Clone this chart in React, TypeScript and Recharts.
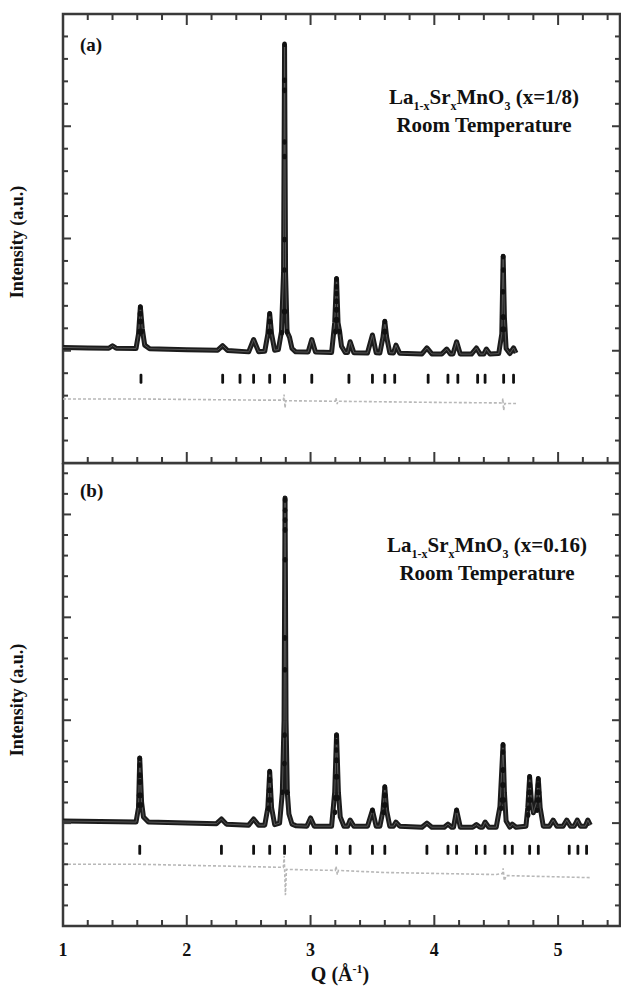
import { ComposedChart, Line, Scatter, XAxis, YAxis, ReferenceArea } from "recharts";

// x axis (Q, 1/A)
const qDomain: [number, number] = [1, 5.5];
const qTicks = [1, 1.2, 1.4, 1.6, 1.8, 2, 2.2, 2.4, 2.6, 2.8, 3, 3.2, 3.4, 3.6, 3.8, 4, 4.2, 4.4, 4.6, 4.8, 5, 5.2, 5.4];
const qLabels = [1, 2, 3, 4, 5];

// y axes (a.u.)
const domainA: [number, number] = [-1000, 3000];
const domainB: [number, number] = [-1000, 3500];
const yTicksA = [-1000, -800, -600, -400, -200, 0, 200, 400, 600, 800, 1000, 1200, 1400, 1600, 1800, 2000, 2200, 2400, 2600, 2800, 3000];
const yTicksB = [-1000, -800, -600, -400, -200, 0, 200, 400, 600, 800, 1000, 1200, 1400, 1600, 1800, 2000, 2200, 2400, 2600, 2800, 3000, 3200, 3400];

// panel (a) x = 1/8
const calcA: [number, number][] = [
  [1.0, 30], [1.2, 25], [1.37, 22], [1.4, 45], [1.43, 22], [1.59, 20], [1.61, 150], [1.625, 390], [1.64, 200], [1.66, 50],
  [1.7, 18], [2.0, 10], [2.25, 5], [2.29, 45], [2.33, 2], [2.5, -10], [2.54, 100], [2.58, -8], [2.63, -5], [2.655, 150],
  [2.67, 330], [2.685, 150], [2.71, 5], [2.74, 10], [2.765, 170], [2.782, 700], [2.79, 2720], [2.798, 700], [2.81, 170],
  [2.83, 120], [2.85, 20], [2.88, -10], [2.98, -12], [3.01, 100], [3.04, -12], [3.17, -15], [3.195, 250], [3.21, 640],
  [3.222, 250], [3.235, 170], [3.25, 40], [3.28, -15], [3.3, -15], [3.32, 80], [3.35, -18], [3.46, -20], [3.5, 140],
  [3.53, -18], [3.56, -20], [3.585, 120], [3.6, 260], [3.615, 120], [3.64, -18], [3.67, -20], [3.69, 50], [3.72, -22],
  [3.9, -28], [3.94, 25], [3.98, -28], [4.06, -30], [4.1, 15], [4.13, -30], [4.15, -30], [4.18, 80], [4.21, -30],
  [4.3, -30], [4.34, 25], [4.37, -30], [4.4, -30], [4.42, 15], [4.45, -30], [4.52, -25], [4.545, 150], [4.556, 840],
  [4.566, 300], [4.58, 20], [4.61, -25], [4.64, 25], [4.66, -20],
];
const obsA: [number, number][] = [
  [1.625, 390], [1.622, 330], [1.628, 330], [1.62, 260], [1.63, 260], [1.617, 170], [1.635, 170],
  [2.67, 330], [2.667, 260], [2.673, 260], [2.663, 170], [2.677, 170],
  [2.79, 2730], [2.79, 2410], [2.79, 2320], [2.79, 1860], [2.79, 1730], [2.789, 990], [2.788, 720], [2.786, 350],
  [2.794, 350], [2.768, 160], [2.81, 170],
  [3.21, 640], [3.21, 570], [3.21, 510], [3.209, 440], [3.211, 440], [3.207, 365], [3.213, 365], [3.205, 275],
  [3.215, 275], [3.2, 170], [3.233, 170],
  [3.6, 260], [3.597, 170], [3.603, 170],
  [4.556, 840], [4.556, 720], [4.555, 525], [4.553, 300], [4.56, 300], [4.55, 190], [4.563, 190],
];
const braggA = [1.63, 2.29, 2.43, 2.54, 2.67, 2.79, 3.01, 3.31, 3.5, 3.6, 3.68, 3.95, 4.11, 4.19, 4.35, 4.41, 4.56, 4.64];
const braggRowA = -250;
const diffA: [number, number][] = [
  [1.0, -430], [1.65, -430], [2.6, -440], [2.78, -440], [2.786, -390], [2.794, -510], [2.8, -445], [3.2, -450],
  [3.205, -420], [3.215, -475], [3.22, -450], [4.0, -460], [4.55, -465], [4.553, -425], [4.56, -530], [4.57, -470], [4.66, -470],
];

// panel (b) x = 0.16
const calcB: [number, number][] = [
  [1.0, 20], [1.3, 15], [1.59, 10], [1.61, 150], [1.62, 630], [1.635, 200], [1.65, 60], [1.69, 10], [2.0, 0], [2.24, -5],
  [2.28, 40], [2.32, -10], [2.5, -20], [2.54, 40], [2.58, -20], [2.63, -20], [2.655, 150], [2.67, 500], [2.685, 150],
  [2.71, -15], [2.75, 0], [2.772, 300], [2.786, 1000], [2.794, 3160], [2.802, 1000], [2.812, 300], [2.825, 90], [2.85, -10],
  [2.88, -25], [2.97, -30], [3.0, 50], [3.03, -30], [3.17, -30], [3.195, 300], [3.21, 855], [3.225, 300], [3.24, 60],
  [3.27, -30], [3.3, -30], [3.32, 30], [3.35, -30], [3.46, -30], [3.5, 125], [3.53, -30], [3.56, -30], [3.585, 120],
  [3.6, 350], [3.615, 120], [3.64, -30], [3.67, -30], [3.69, 10], [3.72, -30], [3.9, -40], [3.94, 0], [3.98, -40],
  [4.08, -40], [4.11, -10], [4.14, -40], [4.155, -40], [4.18, 125], [4.21, -40], [4.31, -40], [4.34, -15], [4.37, -40],
  [4.39, -40], [4.41, 10], [4.44, -40], [4.5, -40], [4.53, 160], [4.555, 760], [4.566, 300], [4.58, 20], [4.61, -40],
  [4.63, -10], [4.66, -40], [4.74, -30], [4.755, 150], [4.77, 450], [4.785, 200], [4.8, 100], [4.825, 200], [4.84, 430],
  [4.855, 150], [4.88, -30], [4.93, -30], [4.96, 30], [4.99, -30], [5.04, -30], [5.07, 30], [5.1, -30], [5.13, -30],
  [5.155, 30], [5.18, -30], [5.22, -30], [5.24, 30], [5.26, -20],
];
const obsB: [number, number][] = [
  [1.62, 630], [1.62, 565], [1.619, 465], [1.621, 465], [1.618, 400], [1.624, 400], [1.615, 270], [1.628, 270],
  [1.613, 175], [1.632, 175],
  [2.67, 500], [2.668, 420], [2.672, 420], [2.665, 320], [2.676, 320], [2.662, 225], [2.679, 225], [2.66, 145],
  [2.794, 3140], [2.794, 3040], [2.794, 2945], [2.794, 2850], [2.794, 2560], [2.793, 1800], [2.793, 1490], [2.79, 855],
  [2.789, 580], [2.772, 300], [2.812, 300],
  [3.21, 855], [3.21, 790], [3.209, 710], [3.208, 610], [3.212, 610], [3.205, 450], [3.215, 450], [3.2, 245],
  [3.22, 245], [3.197, 105],
  [3.5, 125],
  [3.6, 350], [3.597, 270], [3.603, 270], [3.594, 175], [3.606, 175], [3.59, 105],
  [4.18, 125],
  [4.555, 760], [4.555, 690], [4.553, 515], [4.557, 515], [4.55, 370], [4.559, 370], [4.545, 225], [4.562, 225], [4.54, 145],
  [4.77, 450], [4.768, 370], [4.772, 370], [4.765, 300], [4.775, 300], [4.762, 225], [4.778, 225], [4.76, 145], [4.758, 80],
  [4.84, 430], [4.838, 370], [4.842, 370], [4.835, 300], [4.845, 300], [4.832, 225], [4.848, 225], [4.83, 125],
];
const braggB = [1.62, 2.28, 2.54, 2.67, 2.79, 3.0, 3.21, 3.32, 3.5, 3.6, 3.94, 4.11, 4.18, 4.34, 4.41, 4.57, 4.63, 4.77, 4.84, 5.09, 5.16, 5.23];
const braggRowB = -260;
const diffB: [number, number][] = [
  [1.0, -400], [1.62, -400], [2.0, -410], [2.78, -430], [2.787, -320], [2.797, -700], [2.805, -450], [3.2, -460],
  [3.206, -420], [3.216, -500], [3.225, -460], [3.6, -480], [4.5, -500], [4.55, -490], [4.556, -440], [4.565, -560],
  [4.58, -510], [5.26, -530],
];

const toPts = (arr: [number, number][]) => arr.map(([q, i]) => ({ q, i }));
const toBragg = (arr: number[], row: number) => arr.map((q) => ({ q, i: row }));
const isMajor = (q: number) => qLabels.some((l) => Math.abs(l - q) < 1e-6);

const W = 621;
const LEFT = 63;
const RIGHT_EDGE = 620;
const FRAME = "#3a3a3a";
const serif = "'Liberation Serif', 'Times New Roman', serif";
// same linear map as the x axis, for the inward tick overlay
const qToX = (q: number) => LEFT + ((q - qDomain[0]) / (qDomain[1] - qDomain[0])) * (RIGHT_EDGE - LEFT);

const obsDot = (p: any) => <ellipse cx={p.cx} cy={p.cy} rx={2.3} ry={2.8} fill="#111" />;
const braggMark = (p: any) => <rect x={p.cx - 1.4} y={p.cy - 5} width={2.8} height={10} rx={1.2} fill="#111" />;

const xLabel = (labels: boolean) => (p: any) => {
  const v = p.payload.value;
  if (!labels || !isMajor(v)) return <g />;
  return (
    <text x={p.x} y={p.y + 30} textAnchor="middle" fontFamily={serif} fontWeight="bold" fontSize={18} fill="#111">
      {v}
    </text>
  );
};

const yTick = (p: any) => {
  const v = p.payload.value;
  const len = v % 1000 === 0 ? 8 : 5;
  return (
    <g>
      <line x1={p.x} x2={p.x + len} y1={p.y} y2={p.y} stroke={FRAME} strokeWidth={2} />
      <line x1={RIGHT_EDGE} x2={RIGHT_EDGE - len} y1={p.y} y2={p.y} stroke={FRAME} strokeWidth={2} />
    </g>
  );
};

type PanelProps = {
  height: number;
  top: number;
  axisH: number;
  domain: [number, number];
  yTicks: number[];
  calc: [number, number][];
  obs: [number, number][];
  bragg: number[];
  braggRow: number;
  diff: [number, number][];
  topTicks: boolean;
  labels: boolean;
};

const Panel = ({ height, top, axisH, domain, yTicks, calc, obs, bragg, braggRow, diff, topTicks, labels }: PanelProps) => {
  const bottomY = height - axisH;
  return (
    <div style={{ position: "relative", width: W, height }}>
      <ComposedChart width={W} height={height} margin={{ top, right: W - RIGHT_EDGE, bottom: 0, left: 0 }}>
        <XAxis
          type="number"
          dataKey="q"
          domain={qDomain}
          ticks={qTicks}
          interval={0}
          height={axisH}
          tickSize={0}
          tickMargin={0}
          axisLine={false}
          tickLine={false}
          tick={xLabel(labels)}
        />
        <YAxis
          type="number"
          dataKey="i"
          domain={domain}
          ticks={yTicks}
          interval={0}
          width={LEFT}
          tickSize={0}
          tickMargin={0}
          axisLine={false}
          tickLine={false}
          tick={yTick}
        />
        <ReferenceArea x1={qDomain[0]} x2={qDomain[1]} y1={domain[0]} y2={domain[1]} fill="none" stroke={FRAME} strokeWidth={2.5} ifOverflow="visible" />
        <Line data={toPts(diff)} dataKey="i" stroke="#b8b8b8" strokeWidth={1.6} strokeDasharray="3 2" dot={false} isAnimationActive={false} />
        <Line data={toPts(calc)} dataKey="i" stroke="#1c1c1c" strokeWidth={5} strokeLinejoin="round" dot={false} isAnimationActive={false} />
        <Line data={toPts(calc)} dataKey="i" stroke="#555" strokeWidth={1} dot={false} isAnimationActive={false} />
        <Scatter data={toPts(obs)} shape={obsDot} isAnimationActive={false} />
        <Scatter data={toBragg(bragg, braggRow)} shape={braggMark} isAnimationActive={false} />
      </ComposedChart>
      <svg width={W} height={height} style={{ position: "absolute", left: 0, top: 0, pointerEvents: "none" }}>
        {qTicks.map((q) => {
          const len = isMajor(q) ? 11 : 6;
          return (
            <g key={q}>
              <rect x={qToX(q) - 1} y={bottomY - len} width={2} height={len} fill={FRAME} />
              {topTicks && <rect x={qToX(q) - 1} y={top} width={2} height={len} fill={FRAME} />}
            </g>
          );
        })}
      </svg>
    </div>
  );
};

const txt = (extra: React.CSSProperties): React.CSSProperties => ({
  position: "absolute",
  fontFamily: serif,
  fontWeight: "bold",
  color: "#111",
  whiteSpace: "nowrap",
  ...extra,
});

const sub: React.CSSProperties = { fontSize: 12, verticalAlign: "-6px" };

const Title = ({ x, top, conc }: { x: number; top: number; conc: string }) => (
  <>
    <div style={txt({ left: x, top, width: 260, marginLeft: -130, textAlign: "center", fontSize: 21 })}>
      La<span style={sub}>1-x</span>Sr<span style={sub}>x</span>MnO<span style={sub}>3</span> (x={conc})
    </div>
    <div style={txt({ left: x, top: top + 28, width: 260, marginLeft: -130, textAlign: "center", fontSize: 21 })}>
      Room Temperature
    </div>
  </>
);

const YLabel = ({ cy }: { cy: number }) => (
  <div
    style={txt({
      left: 17,
      top: cy,
      fontSize: 18,
      transform: "translate(-50%, -50%) rotate(-90deg)",
    })}
  >
    Intensity (a.u.)
  </div>
);

export default function App() {
  return (
    <div style={{ position: "absolute", left: 0, top: 0, width: W, height: 989, background: "#fff" }}>
      <div style={{ position: "absolute", left: 0, top: 0 }}>
        <Panel
          height={465}
          top={14}
          axisH={2}
          domain={domainA}
          yTicks={yTicksA}
          calc={calcA}
          obs={obsA}
          bragg={braggA}
          braggRow={braggRowA}
          diff={diffA}
          topTicks={true}
          labels={false}
        />
      </div>
      <div style={{ position: "absolute", left: 0, top: 463 }}>
        <Panel
          height={526}
          top={0}
          axisH={63}
          domain={domainB}
          yTicks={yTicksB}
          calc={calcB}
          obs={obsB}
          bragg={braggB}
          braggRow={braggRowB}
          diff={diffB}
          topTicks={false}
          labels={true}
        />
      </div>
      <div style={txt({ left: 80, top: 34, fontSize: 19 })}>(a)</div>
      <div style={txt({ left: 80, top: 480, fontSize: 19 })}>(b)</div>
      <Title x={484} top={85} conc="1/8" />
      <Title x={487} top={533} conc="0.16" />
      <YLabel cy={242} />
      <YLabel cy={700} />
      <div style={txt({ left: 340, top: 962, fontSize: 20, transform: "translateX(-50%)" })}>
        Q (Å<sup style={{ fontSize: 12 }}>-1</sup>)
      </div>
    </div>
  );
}
